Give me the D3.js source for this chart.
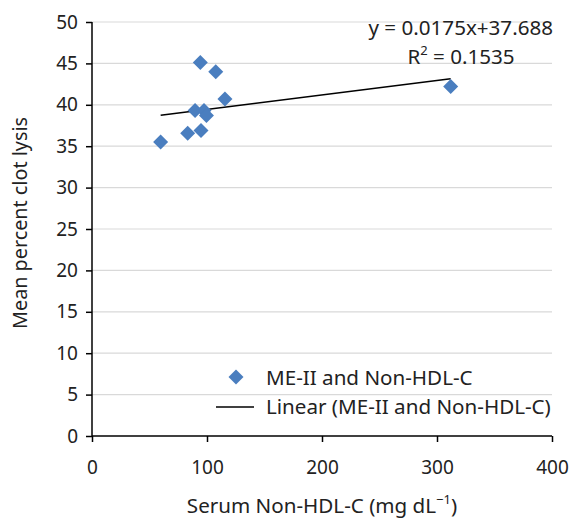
<!DOCTYPE html>
<html>
<head>
<meta charset="utf-8">
<script src="https://cdn.jsdelivr.net/npm/d3@7"></script>
<style>
  body { margin: 0; background: #fff; }
  text { font-family: "Noto Sans", "Open Sans", sans-serif; fill: #222; }
</style>
</head>
<body>
<div id="chart"></div>
<script>
// data
const nonHdl = [59.7, 83.2, 94.8, 89.6, 97.4, 99.5, 115.6, 94.2, 107.6, 311.9];
const clotLysis = [35.5, 36.55, 36.9, 39.3, 39.3, 38.7, 40.7, 45.1, 44.0, 42.2];
const xTicks = [0, 100, 200, 300, 400];
const yTicks = [0, 5, 10, 15, 20, 25, 30, 35, 40, 45, 50];
const slope = 0.0175, intercept = 37.688;
const eqLabel = "y = 0.0175x+37.688";
const r2Value = "0.1535";
const seriesName = "ME-II and Non-HDL-C";
const trendName = "Linear (ME-II and Non-HDL-C)";

const fs = 19, fsBig = 20.6;

const margin = { top: 22, right: 21, bottom: 84, left: 92 },
    width = 573 - margin.left - margin.right,
    height = 520 - margin.top - margin.bottom;

const svg = d3.select("#chart")
    .append("svg")
    .attr("width", 573)
    .attr("height", 520);

const g = svg.append("g")
    .attr("transform", `translate(${margin.left}, ${margin.top})`);

const x = d3.scaleLinear().domain([0, 400]).range([0, width]);
const y = d3.scaleLinear().domain([0, 50]).range([height, 0]);

// gridlines
g.selectAll(".grid")
  .data(yTicks.filter(d => d > 0))
  .enter()
  .append("line")
    .attr("x1", 0)
    .attr("x2", width)
    .attr("y1", d => y(d))
    .attr("y2", d => y(d))
    .attr("stroke", "#d9d9d9")
    .attr("stroke-width", 1.2);

// axes
const yAxis = g.append("g")
    .call(d3.axisLeft(y).tickValues(yTicks).tickSize(6).tickPadding(8));
const xAxis = g.append("g")
    .attr("transform", `translate(0, ${height})`)
    .call(d3.axisBottom(x).tickValues(xTicks).tickSize(6).tickPadding(19));

[xAxis, yAxis].forEach(a => {
    a.select(".domain").attr("stroke", "#000").attr("stroke-width", 1.5);
    a.selectAll(".tick line").attr("stroke", "#000").attr("stroke-width", 1.5);
    a.selectAll(".tick text")
        .attr("font-size", fs)
        .attr("font-family", "'Noto Sans', 'Open Sans', sans-serif")
        .attr("fill", "#222");
});
yAxis.select(".domain").attr("d", `M0,0V${height}`);
xAxis.select(".domain").attr("d", `M0,0H${width}`);

// trend line
const xMin = d3.min(nonHdl), xMax = d3.max(nonHdl);
g.append("line")
    .attr("x1", x(xMin))
    .attr("y1", y(slope * xMin + intercept))
    .attr("x2", x(xMax))
    .attr("y2", y(slope * xMax + intercept))
    .attr("stroke", "#000")
    .attr("stroke-width", 1.5);

const diamond = "M0,-7.5L7.5,0L0,7.5L-7.5,0Z";

g.selectAll(".pt")
  .data(nonHdl)
  .enter()
  .append("path")
    .attr("d", diamond)
    .attr("transform", (d, i) => `translate(${x(d)}, ${y(clotLysis[i])})`)
    .attr("fill", "#4a7ebf");

// equation
g.append("text")
    .attr("x", width + 1)
    .attr("y", 13)
    .attr("text-anchor", "end")
    .attr("font-size", fsBig)
    .text(eqLabel);
const r2 = g.append("text")
    .attr("x", 369)
    .attr("y", 42)
    .attr("text-anchor", "middle")
    .attr("font-size", fsBig);
r2.append("tspan").text("R");
r2.append("tspan").attr("baseline-shift", "super").attr("font-size", 13).text("2");
r2.append("tspan").text(" = " + r2Value);

// legend
const legend = svg.append("g");
legend.append("path")
    .attr("d", diamond)
    .attr("transform", "translate(236, 377)")
    .attr("fill", "#4a7ebf");
legend.append("text")
    .attr("x", 266)
    .attr("y", 385)
    .attr("font-size", fsBig)
    .text(seriesName);
legend.append("line")
    .attr("x1", 216).attr("x2", 254)
    .attr("y1", 407).attr("y2", 407)
    .attr("stroke", "#000")
    .attr("stroke-width", 1.5);
legend.append("text")
    .attr("x", 266)
    .attr("y", 414)
    .attr("font-size", fsBig)
    .text(trendName);

// axis titles
const xt = svg.append("text")
    .attr("x", 322)
    .attr("y", 513)
    .attr("text-anchor", "middle")
    .attr("font-size", fsBig);
xt.append("tspan").text("Serum Non-HDL-C (mg dL");
xt.append("tspan").attr("baseline-shift", "super").attr("font-size", 13).text("\u22121");
xt.append("tspan").text(")");

svg.append("text")
    .attr("transform", "translate(27, 223) rotate(-90)")
    .attr("text-anchor", "middle")
    .attr("font-size", 19.8)
    .text("Mean percent clot lysis");
</script>
</body>
</html>
